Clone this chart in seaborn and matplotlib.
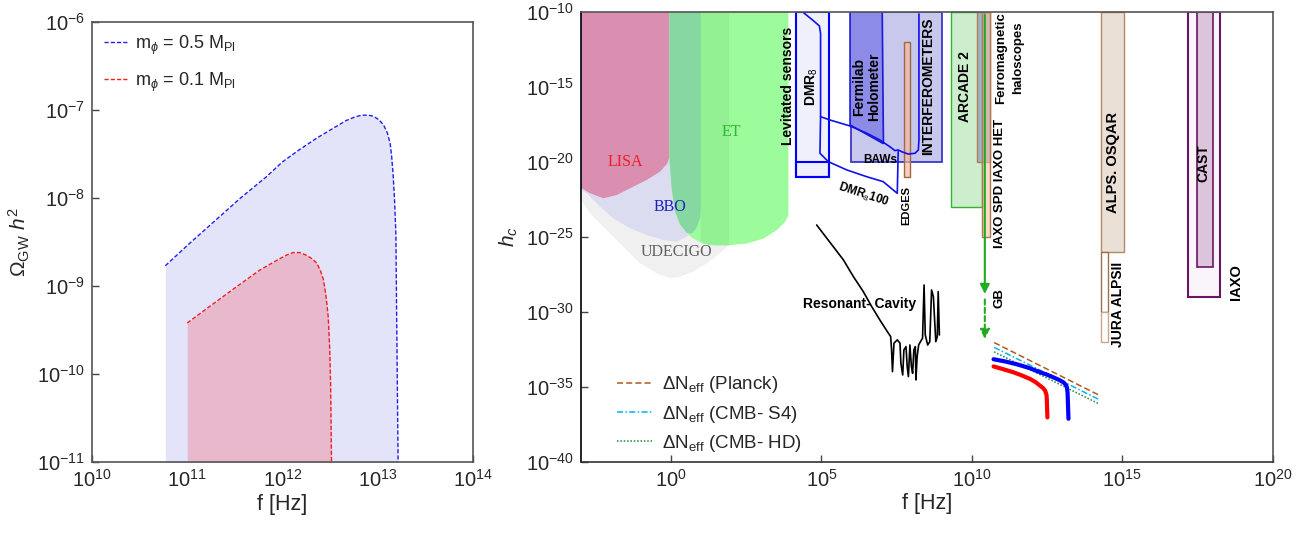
import numpy as np
import matplotlib
matplotlib.use("Agg")
import matplotlib.pyplot as plt
import seaborn as sns
from matplotlib.patches import Rectangle
from matplotlib.ticker import FixedLocator, FuncFormatter, NullLocator

# ---------------- data (log10 values) ----------------
# left panel: Omega_GW h^2 spectra
f_blue = [10.77, 11.01, 11.28, 11.56, 11.83, 12.00, 12.18, 12.36, 12.53, 12.67, 12.76,
          12.83, 12.90, 12.95, 13.01, 13.06, 13.10, 13.13, 13.145, 13.16, 13.175, 13.19, 13.20, 13.214]
om_blue = [-8.77, -8.53, -8.27, -8.00, -7.76, -7.59, -7.45, -7.32, -7.21, -7.12, -7.08,
           -7.06, -7.06, -7.07, -7.11, -7.17, -7.26, -7.38, -7.52, -7.72, -8.00, -8.40, -9.54, -11.05]
f_red = [11.00, 11.20, 11.49, 11.76, 11.97, 12.04, 12.11, 12.18, 12.25, 12.31, 12.36,
         12.40, 12.43, 12.455, 12.48, 12.495, 12.505, 12.515]
om_red = [-9.42, -9.26, -9.03, -8.82, -8.69, -8.65, -8.62, -8.62, -8.65, -8.69, -8.74,
          -8.83, -8.93, -9.10, -9.35, -9.70, -10.11, -11.05]

# right panel: detector regions (log f, log h_c)
lisa_f = [-3.0, -3.0, -2.97, -2.69, -2.25, -1.80, -1.36, -0.81, -0.37, -0.12, -0.05, -0.05]
lisa_h = [-10.0, -21.70, -21.77, -22.11, -22.44, -22.22, -21.77, -21.22, -20.67, -20.11, -19.67, -10.0]
bbo_f = [-3.0, -3.0, -2.80, -2.36, -1.92, -1.36, -0.81, -0.26, 0.19, 0.52, 0.80, 0.80]
bbo_h = [-10.0, -21.9, -22.10, -23.00, -23.77, -24.44, -24.89, -25.22, -25.33, -25.00, -24.5, -10.0]
udecigo_f = [-3.0, -3.0, -2.69, -2.14, -1.58, -1.03, -0.48, -0.03, 0.30, 0.74, 1.19, 1.63, 1.93, 1.93]
udecigo_h = [-21.7, -22.55, -23.44, -24.55, -25.67, -26.77, -27.44, -27.77, -27.67, -27.33, -26.77, -26.10, -25.57, -22.0]
et_f = [-0.05, -0.05, 0.02, 0.13, 0.30, 0.52, 0.74, 1.07, 1.41, 1.93, 2.51, 3.07, 3.51, 3.79, 3.90, 3.90]
et_h = [-10.0, -19.89, -21.74, -23.30, -24.18, -24.74, -25.13, -25.46, -25.57, -25.57, -25.46, -25.13, -24.57, -24.02, -23.57, -10.0]
et_band_f = [-0.05, -0.05, 0.02, 0.13, 0.30, 0.52, 0.69, 0.85, 0.97, 0.99, 0.99]
et_band_h = [-10.0, -19.89, -21.74, -23.30, -24.18, -24.74, -24.80, -24.40, -23.74, -23.07, -10.0]
et_mid_f = [0.99, 0.99, 1.07, 1.41, 1.93, 1.93]
et_mid_h = [-10.0, -25.30, -25.46, -25.57, -25.57, -10.0]

fermi_f = [5.95, 7.02, 7.06, 5.95]
fermi_h = [-10.0, -10.0, -18.80, -17.55]

dmr8_f = [4.40, 4.73, 4.93, 4.97, 4.97, 5.28, 5.95, 6.50, 6.94, 7.27, 7.44, 7.55, 7.66, 7.88, 8.11, 8.22, 8.24, 8.24]
dmr8_h = [-10.06, -10.60, -10.95, -11.44, -17.00, -17.22, -17.62, -18.10, -18.55, -19.00, -19.26, -19.22,
          -19.33, -19.49, -19.44, -19.22, -18.55, -10.15]
dmr100_f = [4.97, 4.95, 5.23, 5.84, 6.50, 7.05, 7.52, 7.55]
dmr100_h = [-17.00, -19.44, -20.00, -20.55, -21.00, -21.33, -22.11, -19.33]

cavity_f = [4.84, 5.39, 5.73, 6.06, 6.39, 6.67, 6.94, 7.19, 7.30, 7.33, 7.36, 7.41, 7.52, 7.61, 7.64, 7.70,
            7.74, 7.81, 7.85, 7.89, 7.94, 7.99, 8.03, 8.07, 8.12, 8.14, 8.18, 8.23, 8.29, 8.36, 8.41,
            8.45, 8.53, 8.60, 8.66, 8.72, 8.80, 8.85, 8.88, 8.92]
cavity_h = [-24.22, -25.66, -26.55, -27.66, -28.66, -29.66, -30.55, -31.33, -31.66, -32.55, -34.00, -32.10,
            -31.88, -32.10, -33.44, -34.22, -32.55, -32.33, -33.66, -34.33, -32.22, -33.66, -34.11, -32.55,
            -32.33, -34.55, -33.00, -32.22, -32.00, -31.77, -28.22, -31.55, -32.22, -32.00, -28.55, -29.00,
            -32.00, -31.66, -28.66, -31.55]

# experiment boxes: log f range and log h_c range
box_names = ["DMR8", "DMR8_low", "INTERF", "EDGES", "ARCADE", "IAXO_HET", "IAXO_SPD",
             "ALPS", "JURA", "ALPSII", "IAXO", "CAST"]
box_f_lo = [4.17, 4.17, 5.98, 7.75, 9.29, 10.18, 10.32, 14.30, 14.30, 14.30, 17.19, 17.49]
box_f_hi = [5.25, 5.25, 8.99, 7.94, 10.33, 10.60, 10.60, 15.04, 14.51, 14.51, 18.24, 18.00]
box_h_lo = [-21.00, -21.00, -20.04, -21.00, -23.00, -20.04, -25.04, -26.03, -30.02, -32.00, -29.03, -27.00]
box_h_hi = [-10.0, -20.0, -10.0, -12.0, -10.0, -10.0, -10.0, -10.0, -26.03, -30.02, -10.0, -10.0]

# GB arrow
gb_f = 10.43
gb_h = [-10.0, -29.0, -32.0]

# Delta N_eff bounds
neff_f = [10.74, 14.22]
planck_h = [-32.06, -35.56]
s4_h = [-32.38, -35.85]
hd_h = [-32.68, -36.14]

# h_c of the two spectra
hc_blue_f = [10.72, 11.11, 11.50, 11.90, 12.27, 12.50, 12.71, 12.90, 13.05, 13.13, 13.16, 13.18, 13.19, 13.21]
hc_blue_h = [-33.17, -33.32, -33.51, -33.75, -34.04, -34.20, -34.38, -34.55, -34.72, -34.90, -35.06, -35.40, -35.96, -37.14]
hc_red_f = [10.72, 11.05, 11.38, 11.66, 11.94, 12.12, 12.27, 12.38, 12.44, 12.48, 12.49, 12.51]
hc_red_h = [-33.65, -33.84, -34.04, -34.25, -34.49, -34.70, -34.94, -35.12, -35.29, -35.55, -35.85, -37.05]

# ---------------- style ----------------
sns.set_theme(style="ticks")
plt.rcParams["font.family"] = ["Liberation Sans", "DejaVu Sans"]
plt.rcParams["mathtext.fontset"] = "custom"
plt.rcParams["mathtext.rm"] = "Liberation Sans"
plt.rcParams["mathtext.it"] = "Liberation Sans:italic"
plt.rcParams["mathtext.bf"] = "Liberation Sans:bold"

P = lambda a: 10.0 ** np.asarray(a, dtype=float)
pow_fmt = FuncFormatter(lambda v, p: r"$10^{%d}$" % int(round(np.log10(v))))

fig = plt.figure(figsize=(13.14, 5.33), dpi=100)
ax1 = fig.add_axes([0.070, 0.133, 0.290, 0.826])
ax2 = fig.add_axes([0.442, 0.1338, 0.5266, 0.8443])

for ax in (ax1, ax2):
    ax.set_xscale("log")
    ax.set_yscale("log")
    for s in ax.spines.values():
        s.set_color("#555555")
        s.set_linewidth(1.2)
    ax.tick_params(direction="in", length=5, width=1, labelsize=14.5, pad=5, color="#444444")
    ax.xaxis.set_minor_locator(NullLocator())
    ax.yaxis.set_minor_locator(NullLocator())
    ax.xaxis.set_major_formatter(pow_fmt)
    ax.yaxis.set_major_formatter(pow_fmt)
ax2.spines["left"].set_color("black")
ax2.spines["bottom"].set_color("#333333")

# ---------------- left panel ----------------
ax1.fill_between(P(f_blue), P(om_blue), 1e-12, color="#e3e3fa", lw=0)
ax1.fill_between(P(f_red), P(om_red), 1e-12, color="#e8b8cc", lw=0)
sns.lineplot(x=P(f_blue), y=P(om_blue), ax=ax1, color="#2020ee", lw=1.0, sort=False,
             linestyle=(0, (3, 1.5)), label=r"m$_\phi$ = 0.5 M$_{\rm Pl}$")
sns.lineplot(x=P(f_red), y=P(om_red), ax=ax1, color="#ee2020", lw=1.0, sort=False,
             linestyle=(0, (3, 1.5)), label=r"m$_\phi$ = 0.1 M$_{\rm Pl}$")
ax1.set_xlim(1e10, 1e14)
ax1.set_ylim(1e-11, 1e-6)
ax1.xaxis.set_major_locator(FixedLocator(P([10, 11, 12, 13, 14])))
ax1.yaxis.set_major_locator(FixedLocator(P([-11, -10, -9, -8, -7, -6])))
ax1.set_xlabel("f [Hz]", fontsize=15.5, labelpad=2)
ax1.set_ylabel(r"$\Omega_{\rm GW}\ h^2$", fontsize=15, labelpad=4)
ax1.legend(loc="upper left", frameon=False, fontsize=13, handlelength=1.3,
           labelspacing=0.75, borderaxespad=0.25, handletextpad=0.45)

# ---------------- right panel ----------------
ax2.fill(P(udecigo_f), P(udecigo_h), color="#f0f0f0", lw=0)
ax2.fill(P(bbo_f), P(bbo_h), color="#dcdcf0", lw=0)
ax2.fill(P(lisa_f), P(lisa_h), color="#da8eb0", lw=0)
ax2.fill(P(et_f), P(et_h), color="#9cfc9c", lw=0)
ax2.fill(P(et_mid_f), P(et_mid_h), color="#93f093", lw=0)
ax2.fill(P(et_band_f), P(et_band_h), color="#86d8a0", lw=0)

serif = ["Liberation Serif", "DejaVu Serif"]
ax2.text(P(-1.53), P(-20.04), "LISA", color="#ee1c24", fontsize=11.5, family=serif, ha="center", va="center")
ax2.text(P(-0.03), P(-23.04), "BBO", color="#2020c0", fontsize=11.5, family=serif, ha="center", va="center")
ax2.text(P(0.19), P(-26.04), "UDECIGO", color="#606060", fontsize=11.5, family=serif, ha="center", va="center")
ax2.text(P(2.0), P(-18.04), "ET", color="#2cb82c", fontsize=11.5, family=serif, ha="center", va="center")

box_style = {
    "DMR8": dict(fc="#f0f0fc", ec="#0000ff", lw=1.5),
    "DMR8_low": dict(fc="none", ec="#0000ff", lw=1.5),
    "INTERF": dict(fc="#c8c8ec", ec="#2a2ac8", lw=1.2),
    "EDGES": dict(fc=(0.97, 0.72, 0.64, 0.7), ec="#a0683c", lw=1.0),
    "ARCADE": dict(fc="#cdeecd", ec="#2fb52f", lw=1.0),
    "IAXO_HET": dict(fc="#9fb2c8", ec="#b07a50", lw=1.0),
    "IAXO_SPD": dict(fc=(0.97, 0.76, 0.66, 0.6), ec="#b07a50", lw=1.0),
    "ALPS": dict(fc="#ebe0d6", ec="#b08a68", lw=1.0),
    "JURA": dict(fc="white", ec="#a07048", lw=1.0),
    "ALPSII": dict(fc="white", ec="#c8a888", lw=1.0),
    "IAXO": dict(fc="#faf5fb", ec="#6a1466", lw=1.5),
    "CAST": dict(fc="#dcc4dc", ec="#6a1466", lw=1.2),
}
draw_order = ["DMR8", "DMR8_low", "INTERF", "ARCADE", "IAXO_HET", "IAXO_SPD",
              "ALPS", "JURA", "ALPSII", "IAXO", "CAST"]
for name in draw_order:
    i = box_names.index(name)
    x0, x1 = 10 ** box_f_lo[i], 10 ** box_f_hi[i]
    y0, y1 = 10 ** box_h_lo[i], 10 ** box_h_hi[i]
    ax2.add_patch(Rectangle((x0, y0), x1 - x0, y1 - y0, **box_style[name]))

ax2.fill(P(fermi_f), P(fermi_h), fc="#8c8ce8", ec="#1a1ad8", lw=1.2)
i = box_names.index("EDGES")
ax2.add_patch(Rectangle((10 ** box_f_lo[i], 10 ** box_h_lo[i]),
                        10 ** box_f_hi[i] - 10 ** box_f_lo[i],
                        10 ** box_h_hi[i] - 10 ** box_h_lo[i], **box_style["EDGES"]))

sns.lineplot(x=P(dmr8_f), y=P(dmr8_h), ax=ax2, color="#1010ee", lw=1.2, sort=False, estimator=None)
sns.lineplot(x=P(dmr100_f), y=P(dmr100_h), ax=ax2, color="#1010ee", lw=1.2, sort=False, estimator=None)
sns.lineplot(x=P(cavity_f), y=P(cavity_h), ax=ax2, color="black", lw=1.2, sort=False, estimator=None)

# GB arrows
ax2.annotate("", xy=(P(gb_f), P(gb_h[1])), xytext=(P(gb_f), P(gb_h[0])),
             arrowprops=dict(arrowstyle="-|>", color="#22aa22", lw=1.5, mutation_scale=14))
ax2.annotate("", xy=(P(gb_f), P(gb_h[2])), xytext=(P(gb_f), P(gb_h[1])),
             arrowprops=dict(arrowstyle="-|>", color="#22aa22", lw=1.5, mutation_scale=14,
                             linestyle=(0, (2.5, 1.5))))

# Delta N_eff lines
sns.lineplot(x=P(neff_f), y=P(planck_h), ax=ax2, color="#b05a1e", lw=1.1,
             linestyle=(0, (4, 2)), label=r"ΔN$_{\rm eff}$ (Planck)")
sns.lineplot(x=P(neff_f), y=P(s4_h), ax=ax2, color="#00b4f0", lw=1.1,
             linestyle=(0, (4, 1.5, 1, 1.5)), label=r"ΔN$_{\rm eff}$ (CMB- S4)")
sns.lineplot(x=P(neff_f), y=P(hd_h), ax=ax2, color="#1a8a3a", lw=1.1,
             linestyle=(0, (1, 1.2)), label=r"ΔN$_{\rm eff}$ (CMB- HD)")

sns.lineplot(x=P(hc_blue_f), y=P(hc_blue_h), ax=ax2, color="#0000ff", lw=3, sort=False, estimator=None)
sns.lineplot(x=P(hc_red_f), y=P(hc_red_h), ax=ax2, color="#ff0000", lw=3, sort=False, estimator=None)

# experiment labels
labels = [
    ("Levitated sensors", 3.90, -14.96, 90, 10, 1.1),
    (r"DMR$_8$", 4.67, -15.0, 90, 10, 1.1),
    ("Fermilab\nHolometer", 6.50, -15.0, 90, 10, 1.1),
    ("INTERFEROMETERS", 8.55, -15.0, 90, 10, 1.1),
    ("BAWs", 6.97, -19.9, 0, 8.5, 1.1),
    ("EDGES", 7.83, -22.9, 90, 8, 1.1),
    (r"DMR$_8$100", 6.39, -22.25, -18, 8.5, 1.1),
    ("ARCADE 2", 9.77, -15.0, 90, 10, 1.1),
    ("Ferromagnetic\nhaloscopes", 11.25, -13.1, 90, 9.5, 1.6),
    ("IAXO SPD IAXO HET", 10.93, -21.44, 90, 9.5, 1.1),
    ("GB", 10.93, -29.11, 90, 9.5, 1.1),
    ("ALPS. OSQAR", 14.70, -20.04, 90, 10.5, 1.1),
    ("JURA ALPSII", 14.87, -29.55, 90, 10, 1.1),
    ("CAST", 17.71, -20.1, 90, 10, 1.1),
    ("IAXO", 18.77, -28.0, 90, 10.5, 1.1),
    ("Resonant- Cavity", 6.27, -29.49, 0, 10, 1.1),
]
for txt, lf, lh, rot, fs, lsp in labels:
    ax2.text(P(lf), P(lh), txt, rotation=rot, fontsize=fs, fontweight="bold",
             ha="center", va="center", color="black", linespacing=lsp)

ax2.set_xlim(1e-3, 1e20)
ax2.set_ylim(1e-40, 1e-10)
ax2.xaxis.set_major_locator(FixedLocator(P([0, 5, 10, 15, 20])))
ax2.yaxis.set_major_locator(FixedLocator(P([-40, -35, -30, -25, -20, -15, -10])))
ax2.set_xlabel("f [Hz]", fontsize=15.5, labelpad=2)
ax2.set_ylabel(r"$h_c$", fontsize=15, labelpad=4)
ax2.legend(loc="lower left", bbox_to_anchor=(0.033, -0.012), frameon=False, fontsize=13.5,
           handlelength=1.9, handletextpad=0.5, labelspacing=0.45, borderaxespad=0.3)

fig.savefig("out.png", dpi=100)
